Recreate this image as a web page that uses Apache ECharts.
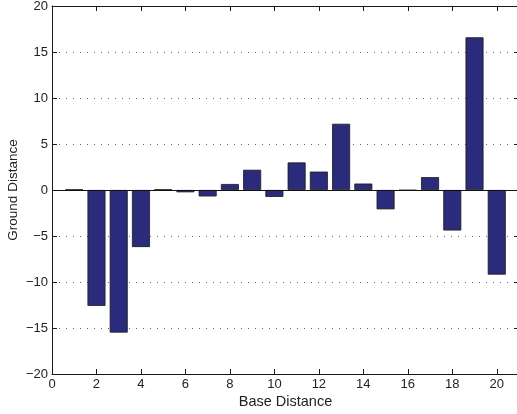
<!DOCTYPE html>
<html>
<head>
<meta charset="utf-8">
<script src="https://cdn.jsdelivr.net/npm/echarts@6/dist/echarts.min.js"></script>
<style>
html,body{margin:0;padding:0;background:#fff;}
#chart{width:517px;height:414px;}
</style>
</head>
<body>
<div id="chart"></div>
<script>
var baseDistance = [1,2,3,4,5,6,7,8,9,10,11,12,13,14,15,16,17,18,19,20];
var groundDistance = [0.05,-12.6,-15.5,-6.2,0.05,-0.25,-0.7,0.65,2.2,-0.75,3.0,2.0,7.2,0.7,-2.1,-0.05,1.4,-4.4,16.6,-9.2];
var xTicks = [0,2,4,6,8,10,12,14,16,18,20];
var yTicks = [-20,-15,-10,-5,0,5,10,15,20];

var font = 'Liberation Sans, Arial, Helvetica, sans-serif';
var chart = echarts.init(document.getElementById('chart'), null, {renderer:'canvas'});
var data = baseDistance.map(function(x,i){return [x, groundDistance[i]];});
var lineCol = '#1a1a1a';
function fmt(v){return v < 0 ? '\u2212' + Math.abs(v) : String(v);}
chart.setOption({
  animation:false,
  backgroundColor:'#fff',
  grid:{left:52, right:-2, top:6, bottom:40, containLabel:false, outerBoundsMode:'none'},
  xAxis:[{
    type:'value', min:0, max:21, interval:2, position:'bottom',
    name:'Base Distance', nameLocation:'middle', nameGap:20, nameMoveOverlap:false,
    nameTextStyle:{fontFamily:font, fontSize:14.5, color:'#222'},
    axisLine:{show:true, onZero:false, lineStyle:{color:lineCol, width:1}},
    axisTick:{show:true, inside:true, length:5, lineStyle:{color:lineCol}},
    axisLabel:{show:true, fontFamily:font, fontSize:13, color:'#222', margin:4, showMaxLabel:false,
      formatter:function(v){return xTicks.indexOf(v)>=0 ? fmt(v) : '';}},
    splitLine:{show:false}
  },{
    type:'value', min:0, max:21, interval:2, position:'top',
    axisLine:{show:true, onZero:false, lineStyle:{color:lineCol, width:1}},
    axisTick:{show:true, inside:true, length:5, lineStyle:{color:lineCol}},
    axisLabel:{show:false}, splitLine:{show:false}
  }],
  yAxis:[{
    type:'value', min:-20, max:20, interval:5, position:'left',
    name:'Ground Distance', nameLocation:'middle', nameGap:32, nameRotate:90, nameMoveOverlap:false,
    nameTextStyle:{fontFamily:font, fontSize:13.5, color:'#222'},
    axisLine:{show:true, onZero:false, lineStyle:{color:lineCol, width:1}},
    axisTick:{show:true, inside:true, length:5, lineStyle:{color:lineCol}},
    axisLabel:{show:true, fontFamily:font, fontSize:13, color:'#222', margin:4,
      formatter:function(v){return yTicks.indexOf(v)>=0 ? fmt(v) : '';}},
    splitLine:{show:true, lineStyle:{color:'#666', type:[1,6], width:1}}
  },{
    type:'value', min:-20, max:20, interval:5, position:'right',
    axisLine:{show:true, onZero:false, lineStyle:{color:lineCol, width:1}},
    axisTick:{show:true, inside:true, length:5, lineStyle:{color:lineCol}},
    axisLabel:{show:false}, splitLine:{show:false}
  }],
  series:[{
    type:'bar', xAxisIndex:0, yAxisIndex:0,
    data:data, barWidth:18,
    itemStyle:{color:'#2b2b7d', borderColor:'#1a1a1a', borderWidth:0.8},
    markLine:{
      silent:true, symbol:['none','none'], label:{show:false},
      lineStyle:{color:'#111', type:'solid', width:1},
      data:[{yAxis:0}]
    }
  }]
});
</script>
</body>
</html>
